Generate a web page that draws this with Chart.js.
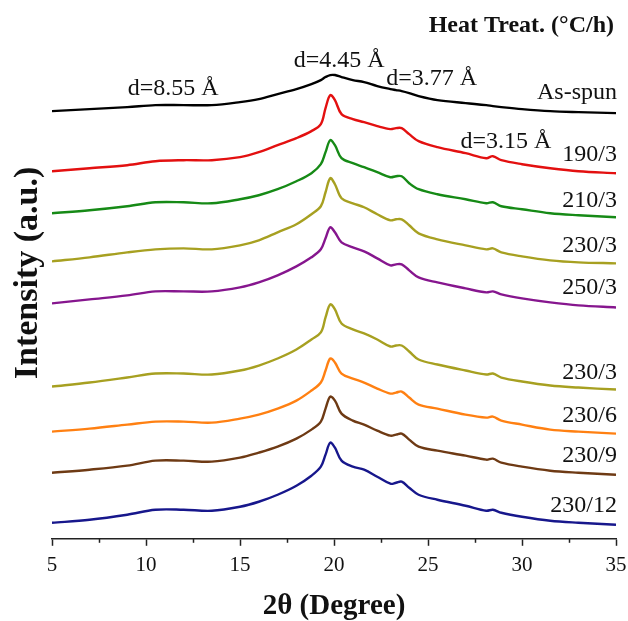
<!DOCTYPE html>
<html>
<head>
<meta charset="utf-8">
<script src="https://cdn.jsdelivr.net/npm/chart.js@4.4.1/dist/chart.umd.min.js"></script>
<style>
  html, body { margin: 0; padding: 0; background: #fff; }
  #xrd { display: block; }
</style>
</head>
<body>
<canvas id="xrd" width="628" height="621"></canvas>
<script>
// 2-theta positions (degree) where the patterns were read
const twoTheta = [5, 7, 9, 10.5, 12, 13.5, 15, 16, 17, 18, 18.8, 19.3, 19.55, 19.8, 20.05, 20.4, 21, 21.6, 22.3, 23, 23.3, 23.6, 24, 24.5, 25.5, 27, 28.1, 28.45, 28.9, 30, 31.5, 33, 35];

// stacked intensities (a.u., offsets included)
const asSpun = [427, 429, 431, 433, 433, 433, 436, 439, 444, 449, 454, 458, 461, 463, 463, 461, 458, 456, 452, 449, 448, 447, 445, 442, 438, 435, 433, 432, 431, 429, 427, 426, 425];
const ht190_3 = [367, 370, 373, 377, 378, 378, 381, 386, 393, 400, 407, 414, 430, 443, 438, 424, 419, 416, 412, 409, 410, 410, 404, 397, 391, 385, 380, 382, 378, 374, 370, 367, 365];
const ht210_3 = [325, 328, 332, 336, 336, 335, 339, 343, 349, 357, 365, 374, 386, 398, 393, 380, 375, 371, 366, 361, 362, 362, 355, 349, 344, 339, 335, 336, 332, 329, 325, 323, 321];
const ht230_3a = [277, 281, 286, 289, 290, 289, 293, 298, 306, 314, 324, 332, 346, 360, 354, 340, 335, 331, 324, 318, 319, 319, 313, 305, 299, 293, 289, 290, 286, 282, 278, 276, 275];
const ht250_3 = [235, 239, 243, 247, 247, 247, 251, 256, 263, 272, 281, 289, 300, 311, 306, 296, 291, 287, 280, 273, 274, 274, 268, 261, 256, 250, 246, 247, 244, 240, 236, 233, 231];
const ht230_3b = [152, 156, 161, 165, 165, 164, 168, 173, 180, 189, 199, 206, 221, 234, 229, 215, 209, 205, 199, 192, 193, 193, 187, 179, 174, 168, 164, 165, 161, 157, 153, 151, 149];
const ht230_6 = [107, 110, 114, 117, 117, 116, 120, 124, 130, 138, 148, 156, 168, 180, 176, 165, 160, 156, 150, 145, 146, 147, 141, 134, 130, 124, 121, 122, 118, 114, 109, 107, 105];
const ht230_9 = [66, 69, 73, 78, 78, 77, 81, 86, 92, 100, 109, 117, 130, 142, 138, 125, 118, 114, 108, 103, 104, 105, 99, 92, 88, 83, 79, 80, 76, 72, 68, 66, 64];
const ht230_12 = [16, 19, 24, 29, 29, 28, 32, 37, 44, 53, 63, 72, 84, 96, 91, 78, 72, 69, 62, 55, 56, 57, 51, 44, 39, 33, 28, 29, 26, 22, 18, 16, 14];

const seriesNames = ['As-spun', '190/3', '210/3', '230/3', '250/3', '230/3', '230/6', '230/9', '230/12'];
const seriesData = [asSpun, ht190_3, ht210_3, ht230_3a, ht250_3, ht230_3b, ht230_6, ht230_9, ht230_12];
const seriesColors = ['#000000', '#e31010', '#168a16', '#a7a021', '#86168e', '#a7a021', '#ff8012', '#6e3a14', '#17178c'];

// where each curve name sits (data coords)
const nameY = [445, 383, 338, 293, 251, 166, 123, 83, 33];

// d-spacing notes (text, 2theta, intensity)
const dNotes = [
  ['d=8.55 Å', 11.45, 449],
  ['d=4.45 Å', 20.27, 477],
  ['d=3.77 Å', 25.2, 459],
  ['d=3.15 Å', 29.15, 396]
];

const serif = "'Liberation Serif', 'Times New Roman', serif";

const datasets = seriesData.map((vals, i) => ({
  label: seriesNames[i],
  data: vals.map((v, k) => ({ x: twoTheta[k], y: v })),
  borderColor: seriesColors[i],
  borderWidth: 2.4,
  pointRadius: 0,
  fill: false,
  tension: 0.35
}));

// minor ticks + all text on the plot
const decorations = {
  id: 'decorations',
  afterDraw(chart) {
    const ctx = chart.ctx;
    const xs = chart.scales.x;
    const ys = chart.scales.y;
    const bottom = chart.chartArea.bottom;

    ctx.save();
    ctx.strokeStyle = '#222';
    ctx.lineWidth = 1.5;
    for (let v = 7.5; v < 35; v += 5) {
      const px = Math.round(xs.getPixelForValue(v)) + 0.5;
      ctx.beginPath();
      ctx.moveTo(px, bottom);
      ctx.lineTo(px, bottom + 4);
      ctx.stroke();
    }

    ctx.fillStyle = '#111';
    ctx.textBaseline = 'middle';

    // curve names
    ctx.font = '24px ' + serif;
    ctx.textAlign = 'right';
    seriesNames.forEach((name, i) => {
      ctx.fillText(name, xs.getPixelForValue(35) + 1, ys.getPixelForValue(nameY[i]));
    });

    // d-spacings
    ctx.textAlign = 'center';
    dNotes.forEach(n => {
      ctx.fillText(n[0], xs.getPixelForValue(n[1]), ys.getPixelForValue(n[2]));
    });

    // legend header
    ctx.font = 'bold 24px ' + serif;
    ctx.textAlign = 'right';
    ctx.fillText('Heat Treat. (°C/h)', 614, 26);

    // axis titles
    ctx.font = 'bold 29px ' + serif;
    ctx.textAlign = 'center';
    ctx.fillText('2θ (Degree)', xs.getPixelForValue(20), 607);

    ctx.translate(28, 273);
    ctx.rotate(-Math.PI / 2);
    ctx.font = 'bold 34px ' + serif;
    ctx.fillText('Intensity (a.u.)', 0, 0);
    ctx.restore();
  }
};

new Chart(document.getElementById('xrd'), {
  type: 'line',
  data: { datasets: datasets },
  options: {
    responsive: false,
    animation: false,
    devicePixelRatio: 1,
    layout: { padding: { left: 52, right: 12, top: 40, bottom: 36 } },
    plugins: { legend: { display: false }, tooltip: { enabled: false } },
    scales: {
      x: {
        type: 'linear',
        min: 5,
        max: 35,
        afterFit: (scale) => {
          // let the end labels hang over the padding instead of shrinking the plot
          scale.paddingLeft = 0;
          scale.paddingRight = 0;
        },
        ticks: {
          stepSize: 5,
          padding: 7,
          maxRotation: 0,
          color: '#111',
          font: { family: serif, size: 21 }
        },
        grid: {
          drawOnChartArea: false,
          tickLength: 7,
          tickColor: '#222',
          tickWidth: 1.5
        },
        border: { color: '#222', width: 1.5 }
      },
      y: {
        display: false,
        min: 0,
        max: 498
      }
    }
  },
  plugins: [decorations]
});
</script>
</body>
</html>
